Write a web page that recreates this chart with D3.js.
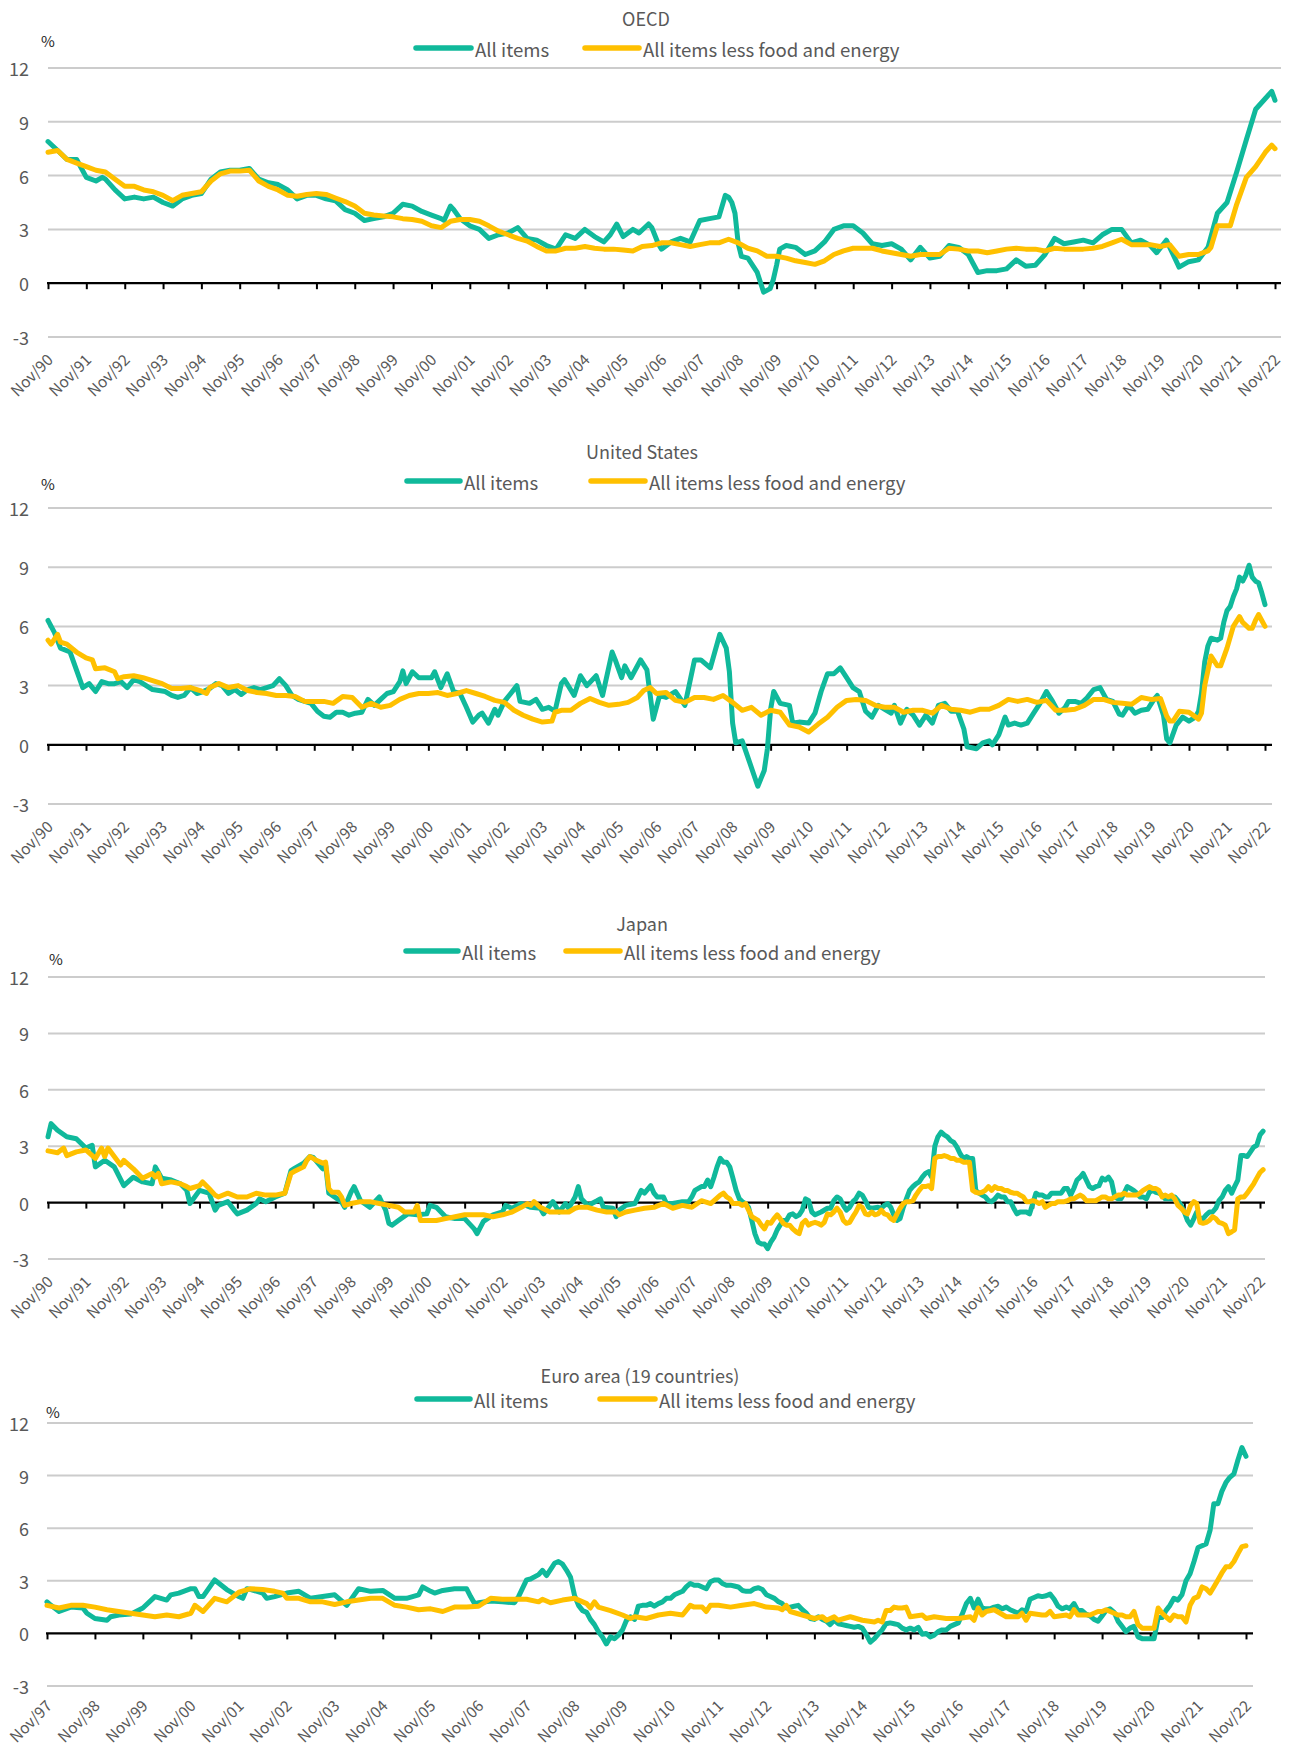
<!DOCTYPE html>
<html>
<head>
<meta charset="utf-8">
<script src="https://cdn.jsdelivr.net/npm/d3@7"></script>
<style>
  body { margin: 0; background: #fff; }
  text { font-family: "Noto Sans CJK JP", "Noto Sans", sans-serif; fill: #595959; }
</style>
</head>
<body>
<svg id="chart" width="1289" height="1747"></svg>
<script>
// year-on-year CPI, %  ([month, value])
const oecdAll = [
  ["1990-11",7.9],["1991-02",7.4],["1991-05",6.9],["1991-08",6.9],["1991-11",5.9],["1992-02",5.7],["1992-04",5.9],["1992-05",5.8],
  ["1992-08",5.2],["1992-11",4.7],["1993-02",4.8],["1993-05",4.7],["1993-08",4.8],["1993-11",4.5],["1994-02",4.3],["1994-05",4.7],
  ["1994-08",4.9],["1994-11",5.0],["1995-02",5.8],["1995-05",6.2],["1995-08",6.3],["1995-11",6.3],["1996-02",6.4],["1996-05",5.8],
  ["1996-08",5.6],["1996-11",5.5],["1997-02",5.2],["1997-05",4.7],["1997-08",4.9],["1997-11",4.9],["1998-02",4.7],["1998-05",4.6],
  ["1998-08",4.1],["1998-11",3.9],["1999-02",3.5],["1999-05",3.6],["1999-08",3.7],["1999-11",3.9],["2000-02",4.4],["2000-05",4.3],
  ["2000-08",4.0],["2000-11",3.8],["2001-02",3.6],["2001-03",3.5],["2001-05",4.3],["2001-06",4.1],["2001-08",3.6],["2001-11",3.2],
  ["2002-02",3.0],["2002-05",2.5],["2002-08",2.7],["2002-11",2.8],["2003-02",3.1],["2003-05",2.5],["2003-08",2.4],["2003-11",2.1],
  ["2004-02",1.9],["2004-05",2.7],["2004-08",2.5],["2004-11",3.0],["2005-02",2.6],["2005-05",2.3],["2005-07",2.7],["2005-09",3.3],
  ["2005-11",2.6],["2006-02",3.0],["2006-04",2.8],["2006-07",3.3],["2006-08",3.1],["2006-10",2.2],["2006-11",1.9],["2007-02",2.3],
  ["2007-05",2.5],["2007-08",2.3],["2007-11",3.5],["2008-02",3.6],["2008-05",3.7],["2008-07",4.9],["2008-08",4.8],["2008-09",4.5],
  ["2008-10",3.9],["2008-11",2.2],["2008-12",1.5],["2009-02",1.4],["2009-05",0.6],["2009-07",-0.5],["2009-09",-0.3],["2009-10",0.2],
  ["2009-11",1.0],["2009-12",1.9],["2010-02",2.1],["2010-05",2.0],["2010-08",1.6],["2010-11",1.8],["2011-02",2.3],["2011-05",3.0],
  ["2011-08",3.2],["2011-11",3.2],["2012-02",2.8],["2012-05",2.2],["2012-08",2.1],["2012-11",2.2],["2013-02",1.9],["2013-05",1.3],
  ["2013-08",2.0],["2013-11",1.4],["2014-02",1.5],["2014-05",2.1],["2014-08",2.0],["2014-11",1.6],["2015-02",0.6],["2015-05",0.7],
  ["2015-08",0.7],["2015-11",0.8],["2016-02",1.3],["2016-05",0.95],["2016-08",1.0],["2016-11",1.6],["2017-02",2.5],["2017-05",2.2],
  ["2017-08",2.3],["2017-11",2.4],["2018-02",2.25],["2018-05",2.7],["2018-08",3.0],["2018-11",3.0],["2019-02",2.25],["2019-05",2.4],
  ["2019-08",2.1],["2019-10",1.7],["2020-01",2.4],["2020-05",0.9],["2020-08",1.2],["2020-11",1.3],["2021-02",2.0],["2021-05",3.9],
  ["2021-08",4.5],["2021-11",6.2],["2022-02",8.0],["2022-05",9.7],["2022-08",10.3],["2022-10",10.7],["2022-11",10.2]
];
const oecdCore = [
  ["1990-11",7.3],["1991-02",7.4],["1991-05",6.9],["1991-08",6.7],["1991-11",6.5],["1992-02",6.3],["1992-05",6.2],["1992-08",5.8],
  ["1992-11",5.4],["1993-02",5.4],["1993-05",5.2],["1993-08",5.1],["1993-11",4.9],["1994-02",4.6],["1994-05",4.9],["1994-08",5.0],
  ["1994-11",5.1],["1995-02",5.7],["1995-05",6.1],["1995-08",6.25],["1995-11",6.25],["1996-02",6.3],["1996-05",5.7],["1996-08",5.4],
  ["1996-11",5.2],["1997-02",4.9],["1997-05",4.85],["1997-08",4.95],["1997-11",5.0],["1998-02",4.95],["1998-05",4.75],["1998-08",4.55],
  ["1998-11",4.3],["1999-02",3.9],["1999-05",3.8],["1999-08",3.75],["1999-11",3.7],["2000-02",3.6],["2000-05",3.55],["2000-08",3.45],
  ["2000-11",3.2],["2001-02",3.1],["2001-05",3.45],["2001-08",3.55],["2001-11",3.55],["2002-02",3.45],["2002-05",3.2],["2002-08",2.9],
  ["2002-11",2.7],["2003-02",2.5],["2003-05",2.35],["2003-08",2.05],["2003-11",1.8],["2004-02",1.8],["2004-05",1.95],["2004-08",1.95],
  ["2004-11",2.05],["2005-02",1.95],["2005-05",1.9],["2005-08",1.9],["2005-11",1.85],["2006-02",1.8],["2006-05",2.05],["2006-08",2.1],
  ["2006-11",2.25],["2007-02",2.25],["2007-05",2.15],["2007-08",2.05],["2007-11",2.15],["2008-02",2.25],["2008-05",2.25],["2008-08",2.45],
  ["2008-11",2.25],["2009-02",1.95],["2009-05",1.8],["2009-08",1.5],["2009-11",1.5],["2010-02",1.4],["2010-05",1.25],["2010-08",1.15],
  ["2010-11",1.05],["2011-02",1.25],["2011-05",1.6],["2011-08",1.8],["2011-11",1.95],["2012-02",1.95],["2012-05",1.95],["2012-08",1.8],
  ["2012-11",1.7],["2013-02",1.6],["2013-05",1.5],["2013-08",1.6],["2013-11",1.6],["2014-02",1.6],["2014-05",1.95],["2014-08",1.9],
  ["2014-11",1.8],["2015-02",1.8],["2015-05",1.7],["2015-08",1.8],["2015-11",1.9],["2016-02",1.95],["2016-05",1.9],["2016-08",1.9],
  ["2016-11",1.8],["2017-02",1.95],["2017-05",1.9],["2017-08",1.9],["2017-11",1.9],["2018-02",1.95],["2018-05",2.05],["2018-08",2.25],
  ["2018-11",2.45],["2019-02",2.15],["2019-05",2.15],["2019-08",2.15],["2019-11",2.05],["2020-02",2.15],["2020-05",1.5],["2020-08",1.6],
  ["2020-11",1.6],["2021-02",1.8],["2021-03",2.0],["2021-05",3.2],["2021-09",3.2],["2021-11",4.4],["2022-02",5.9],["2022-05",6.5],
  ["2022-08",7.3],["2022-10",7.7],["2022-11",7.5]
];
const usAll = [
  ["1990-11",6.3],["1991-01",5.7],["1991-03",4.9],["1991-06",4.7],["1991-08",3.8],["1991-10",2.9],["1991-12",3.1],["1992-02",2.7],
  ["1992-04",3.2],["1992-06",3.1],["1992-08",3.1],["1992-10",3.2],["1992-12",2.9],["1993-02",3.3],["1993-04",3.2],["1993-06",3.0],
  ["1993-08",2.8],["1993-10",2.75],["1993-12",2.7],["1994-02",2.5],["1994-04",2.4],["1994-06",2.5],["1994-08",2.9],["1994-10",2.6],
  ["1994-12",2.7],["1995-02",2.85],["1995-04",3.1],["1995-06",3.0],["1995-08",2.6],["1995-10",2.8],["1995-12",2.55],["1996-02",2.8],
  ["1996-04",2.9],["1996-06",2.8],["1996-08",2.9],["1996-10",3.0],["1996-12",3.35],["1997-02",3.0],["1997-04",2.5],["1997-06",2.3],
  ["1997-08",2.2],["1997-10",2.1],["1997-12",1.7],["1998-02",1.45],["1998-04",1.4],["1998-06",1.65],["1998-08",1.65],["1998-10",1.5],
  ["1998-12",1.6],["1999-02",1.65],["1999-04",2.3],["1999-06",2.0],["1999-08",2.3],["1999-10",2.6],["1999-12",2.7],["2000-02",3.2],
  ["2000-03",3.75],["2000-04",3.1],["2000-06",3.7],["2000-08",3.4],["2000-10",3.4],["2000-12",3.4],["2001-01",3.7],["2001-03",2.9],
  ["2001-05",3.6],["2001-07",2.7],["2001-09",2.6],["2001-11",1.9],["2002-01",1.15],["2002-03",1.5],["2002-04",1.6],["2002-06",1.1],
  ["2002-08",1.8],["2002-09",1.5],["2002-11",2.2],["2003-01",2.6],["2003-03",3.0],["2003-04",2.2],["2003-07",2.1],["2003-09",2.3],
  ["2003-11",1.8],["2004-01",1.9],["2004-03",1.7],["2004-05",3.1],["2004-06",3.3],["2004-09",2.5],["2004-11",3.5],["2005-01",3.0],
  ["2005-04",3.5],["2005-06",2.5],["2005-09",4.7],["2005-10",4.3],["2005-12",3.4],["2006-01",4.0],["2006-03",3.4],["2006-06",4.3],
  ["2006-08",3.8],["2006-10",1.3],["2006-12",2.5],["2007-02",2.4],["2007-05",2.7],["2007-08",2.0],["2007-11",4.3],["2008-01",4.3],
  ["2008-04",3.9],["2008-07",5.6],["2008-09",4.9],["2008-10",3.7],["2008-11",1.1],["2008-12",0.1],["2009-02",0.2],["2009-04",-0.7],
  ["2009-07",-2.1],["2009-09",-1.3],["2009-10",-0.2],["2009-11",1.8],["2009-12",2.7],["2010-02",2.1],["2010-05",2.0],["2010-06",1.1],
  ["2010-08",1.15],["2010-11",1.1],["2011-01",1.6],["2011-03",2.7],["2011-05",3.6],["2011-07",3.6],["2011-09",3.9],["2011-11",3.4],
  ["2012-01",2.9],["2012-03",2.7],["2012-05",1.7],["2012-07",1.4],["2012-09",2.0],["2012-11",1.8],["2013-01",1.6],["2013-02",2.0],
  ["2013-04",1.1],["2013-06",1.8],["2013-08",1.5],["2013-10",1.0],["2013-12",1.5],["2014-02",1.1],["2014-04",2.0],["2014-06",2.1],
  ["2014-08",1.7],["2014-10",1.7],["2014-12",0.8],["2015-01",-0.1],["2015-04",-0.2],["2015-06",0.1],["2015-08",0.2],["2015-09",0.0],
  ["2015-11",0.5],["2016-01",1.4],["2016-02",1.0],["2016-04",1.1],["2016-06",1.0],["2016-08",1.1],["2016-10",1.6],["2016-12",2.1],
  ["2017-02",2.7],["2017-04",2.2],["2017-06",1.6],["2017-08",1.9],["2017-09",2.2],["2017-11",2.2],["2018-01",2.1],["2018-03",2.4],
  ["2018-05",2.8],["2018-07",2.9],["2018-09",2.3],["2018-11",2.2],["2019-01",1.55],["2019-02",1.5],["2019-04",2.0],["2019-06",1.6],
  ["2019-08",1.75],["2019-10",1.8],["2019-12",2.3],["2020-01",2.5],["2020-03",1.5],["2020-04",0.3],["2020-05",0.1],["2020-07",1.0],
  ["2020-09",1.4],["2020-11",1.2],["2021-01",1.4],["2021-02",1.7],["2021-03",2.6],["2021-04",4.2],["2021-05",5.0],["2021-06",5.4],
  ["2021-08",5.3],["2021-09",5.4],["2021-10",6.2],["2021-11",6.8],["2021-12",7.0],["2022-01",7.5],["2022-02",7.9],["2022-03",8.5],
  ["2022-04",8.3],["2022-05",8.6],["2022-06",9.1],["2022-07",8.5],["2022-08",8.3],["2022-09",8.2],["2022-10",7.7],["2022-11",7.1]
];
const usCore = [
  ["1990-11",5.3],["1990-12",5.1],["1991-02",5.6],["1991-03",5.2],["1991-05",5.1],["1991-08",4.7],["1991-11",4.4],["1992-01",4.3],
  ["1992-02",3.85],["1992-05",3.9],["1992-08",3.7],["1992-09",3.35],["1992-11",3.45],["1993-02",3.5],["1993-05",3.4],["1993-08",3.25],
  ["1993-11",3.1],["1994-02",2.85],["1994-05",2.85],["1994-08",2.9],["1994-11",2.75],["1995-01",2.6],["1995-02",2.9],["1995-05",3.1],
  ["1995-08",2.9],["1995-11",3.0],["1996-02",2.75],["1996-05",2.65],["1996-08",2.6],["1996-11",2.5],["1997-02",2.5],["1997-05",2.45],
  ["1997-08",2.2],["1997-11",2.2],["1998-02",2.2],["1998-05",2.1],["1998-08",2.45],["1998-11",2.4],["1999-02",1.9],["1999-05",2.1],
  ["1999-08",1.9],["1999-11",2.0],["2000-02",2.3],["2000-05",2.5],["2000-08",2.6],["2000-11",2.6],["2001-02",2.65],["2001-05",2.5],
  ["2001-08",2.6],["2001-11",2.75],["2002-02",2.6],["2002-05",2.45],["2002-08",2.25],["2002-11",2.15],["2003-02",1.75],["2003-05",1.5],
  ["2003-08",1.3],["2003-11",1.15],["2004-02",1.2],["2004-03",1.65],["2004-05",1.75],["2004-08",1.75],["2004-11",2.1],["2005-02",2.35],
  ["2005-05",2.15],["2005-08",2.0],["2005-11",2.05],["2006-02",2.15],["2006-05",2.4],["2006-07",2.75],["2006-09",2.9],["2006-11",2.6],
  ["2007-02",2.65],["2007-05",2.25],["2007-08",2.15],["2007-11",2.4],["2008-02",2.4],["2008-05",2.3],["2008-08",2.5],["2008-11",2.15],
  ["2009-02",1.75],["2009-05",1.9],["2009-08",1.5],["2009-11",1.75],["2010-02",1.65],["2010-05",1.0],["2010-08",0.9],["2010-11",0.65],
  ["2011-02",1.05],["2011-05",1.4],["2011-08",1.9],["2011-11",2.25],["2012-02",2.3],["2012-05",2.25],["2012-08",2.0],["2012-11",1.9],
  ["2013-02",1.9],["2013-05",1.65],["2013-08",1.75],["2013-11",1.75],["2014-02",1.6],["2014-05",2.0],["2014-08",1.8],["2014-11",1.75],
  ["2015-02",1.65],["2015-05",1.8],["2015-08",1.8],["2015-11",2.0],["2016-02",2.3],["2016-05",2.2],["2016-08",2.3],["2016-11",2.15],
  ["2017-02",2.25],["2017-05",1.75],["2017-08",1.75],["2017-11",1.8],["2018-02",2.0],["2018-05",2.3],["2018-08",2.3],["2018-11",2.15],
  ["2019-02",2.1],["2019-05",2.05],["2019-08",2.4],["2019-11",2.3],["2020-02",2.35],["2020-04",1.45],["2020-05",1.2],["2020-06",1.2],
  ["2020-08",1.7],["2020-11",1.65],["2021-02",1.3],["2021-03",1.6],["2021-04",3.0],["2021-06",4.5],["2021-08",4.0],["2021-09",4.0],
  ["2021-11",4.9],["2022-01",6.0],["2022-03",6.5],["2022-04",6.2],["2022-06",5.9],["2022-07",5.9],["2022-08",6.3],["2022-09",6.6],
  ["2022-10",6.3],["2022-11",6.0]
];
const jpAll = [
  ["1990-11",3.5],["1990-12",4.2],["1991-02",3.85],["1991-05",3.5],["1991-08",3.4],["1991-11",2.9],["1992-01",3.05],["1992-02",1.9],
  ["1992-05",2.25],["1992-08",1.9],["1992-11",0.9],["1993-02",1.35],["1993-05",1.1],["1993-08",1.0],["1993-09",1.9],["1993-11",1.3],
  ["1994-02",1.2],["1994-05",1.0],["1994-07",0.65],["1994-08",-0.05],["1994-11",0.65],["1995-02",0.5],["1995-04",-0.4],["1995-05",-0.15],
  ["1995-08",0.05],["1995-10",-0.4],["1995-11",-0.6],["1996-02",-0.4],["1996-05",-0.05],["1996-06",0.2],["1996-08",0.05],["1996-11",0.3],
  ["1997-02",0.5],["1997-04",1.7],["1997-05",1.8],["1997-08",2.1],["1997-10",2.45],["1997-11",2.4],["1998-02",1.8],["1998-03",2.0],
  ["1998-04",0.5],["1998-05",0.4],["1998-08",0.05],["1998-09",-0.25],["1998-11",0.55],["1998-12",0.85],["1999-02",0.1],["1999-05",-0.25],
  ["1999-08",0.3],["1999-10",-0.4],["1999-11",-1.1],["1999-12",-1.2],["2000-02",-0.95],["2000-05",-0.6],["2000-08",-0.65],["2000-11",-0.6],
  ["2000-12",-0.15],["2001-02",-0.25],["2001-05",-0.75],["2001-08",-0.85],["2001-11",-0.85],["2002-02",-1.4],["2002-03",-1.65],["2002-05",-1.0],
  ["2002-08",-0.65],["2002-11",-0.5],["2002-12",-0.15],["2003-02",-0.3],["2003-05",-0.05],["2003-08",-0.25],["2003-11",-0.3],["2003-12",-0.6],
  ["2004-02",-0.15],["2004-03",0.05],["2004-05",-0.5],["2004-07",-0.05],["2004-08",-0.3],["2004-10",0.3],["2004-11",0.85],["2004-12",0.2],
  ["2005-02",-0.15],["2005-05",0.1],["2005-06",0.2],["2005-07",-0.25],["2005-10",-0.3],["2005-11",-0.75],["2005-12",-0.4],["2006-02",-0.15],
  ["2006-05",-0.05],["2006-07",0.65],["2006-08",0.5],["2006-10",0.9],["2006-11",0.5],["2006-12",0.3],["2007-02",0.3],["2007-03",-0.05],
  ["2007-05",-0.05],["2007-08",0.05],["2007-10",0.05],["2007-11",0.3],["2007-12",0.65],["2008-02",0.85],["2008-03",0.85],["2008-04",1.2],
  ["2008-05",0.85],["2008-06",1.35],["2008-07",1.9],["2008-08",2.35],["2008-09",2.15],["2008-10",2.15],["2008-11",1.9],["2008-12",1.3],
  ["2009-01",0.65],["2009-02",0.2],["2009-03",0.05],["2009-04",-0.05],["2009-05",-0.25],["2009-06",-0.95],["2009-07",-1.65],["2009-08",-2.1],
  ["2009-09",-2.2],["2009-10",-2.2],["2009-11",-2.45],["2009-12",-2.1],["2010-01",-1.85],["2010-02",-1.45],["2010-03",-1.2],["2010-04",-0.95],
  ["2010-05",-0.95],["2010-06",-0.65],["2010-07",-0.6],["2010-08",-0.75],["2010-09",-0.65],["2010-10",-0.4],["2010-11",0.2],["2010-12",0.1],
  ["2011-01",-0.5],["2011-02",-0.65],["2011-04",-0.5],["2011-06",-0.3],["2011-07",-0.3],["2011-08",0.1],["2011-09",0.3],["2011-10",0.2],
  ["2011-11",-0.15],["2011-12",-0.4],["2012-01",-0.25],["2012-02",0.05],["2012-03",0.2],["2012-04",0.5],["2012-05",0.4],["2012-06",0.1],
  ["2012-07",-0.25],["2012-08",-0.3],["2012-10",-0.25],["2012-11",-0.3],["2012-12",-0.15],["2013-01",-0.05],["2013-02",-0.25],["2013-03",-0.65],
  ["2013-04",-0.95],["2013-05",-0.85],["2013-06",-0.25],["2013-07",0.2],["2013-08",0.65],["2013-09",0.85],["2013-10",1.0],["2013-11",1.1],
  ["2013-12",1.35],["2014-01",1.55],["2014-02",1.65],["2014-03",1.35],["2014-04",3.0],["2014-05",3.5],["2014-06",3.75],["2014-07",3.6],
  ["2014-08",3.5],["2014-09",3.3],["2014-10",3.2],["2014-11",2.95],["2014-12",2.6],["2015-01",2.35],["2015-02",2.45],["2015-03",2.35],
  ["2015-04",2.35],["2015-05",0.65],["2015-06",0.5],["2015-07",0.4],["2015-08",0.3],["2015-09",0.1],["2015-10",0.05],["2015-11",0.2],
  ["2015-12",0.4],["2016-01",0.3],["2016-02",0.3],["2016-03",0.05],["2016-04",0.05],["2016-05",-0.3],["2016-06",-0.6],["2016-07",-0.5],
  ["2016-08",-0.5],["2016-09",-0.5],["2016-10",-0.6],["2016-11",-0.05],["2016-12",0.5],["2017-01",0.4],["2017-02",0.4],["2017-03",0.3],
  ["2017-04",0.3],["2017-05",0.5],["2017-06",0.5],["2017-07",0.5],["2017-08",0.5],["2017-09",0.75],["2017-10",0.75],["2017-11",0.4],
  ["2017-12",0.75],["2018-01",1.2],["2018-02",1.35],["2018-03",1.55],["2018-04",1.2],["2018-05",0.85],["2018-06",0.75],["2018-07",0.85],
  ["2018-08",0.9],["2018-09",1.3],["2018-10",1.2],["2018-11",1.35],["2018-12",1.1],["2019-01",0.3],["2019-02",0.2],["2019-03",0.2],
  ["2019-04",0.5],["2019-05",0.85],["2019-06",0.75],["2019-07",0.65],["2019-08",0.5],["2019-09",0.3],["2019-10",0.3],["2019-11",0.2],
  ["2019-12",0.55],["2020-01",0.65],["2020-02",0.55],["2020-03",0.5],["2020-04",0.4],["2020-05",0.2],["2020-06",0.2],["2020-07",0.2],
  ["2020-08",0.3],["2020-09",0.1],["2020-10",-0.15],["2020-11",-0.5],["2020-12",-0.95],["2021-01",-1.2],["2021-02",-0.85],["2021-03",-0.5],
  ["2021-04",-0.85],["2021-05",-0.85],["2021-06",-0.65],["2021-07",-0.5],["2021-08",-0.5],["2021-09",-0.3],["2021-10",0.1],["2021-11",0.3],
  ["2021-12",0.65],["2022-01",0.85],["2022-02",0.5],["2022-03",0.85],["2022-04",1.2],["2022-05",2.5],["2022-06",2.5],["2022-07",2.45],
  ["2022-08",2.7],["2022-09",2.95],["2022-10",3.05],["2022-11",3.6],["2022-12",3.8]
];
const jpCore = [
  ["1990-11",2.75],["1991-02",2.65],["1991-04",2.9],["1991-05",2.5],["1991-08",2.7],["1991-11",2.8],["1992-02",2.35],["1992-04",2.9],
  ["1992-05",2.45],["1992-06",2.9],["1992-08",2.45],["1992-10",2.0],["1992-11",2.25],["1993-02",1.8],["1993-05",1.3],["1993-08",1.55],
  ["1993-09",1.35],["1993-10",1.55],["1993-11",1.0],["1994-02",1.1],["1994-05",1.0],["1994-07",0.85],["1994-08",0.75],["1994-11",0.9],
  ["1994-12",1.1],["1995-02",0.75],["1995-04",0.4],["1995-05",0.3],["1995-08",0.5],["1995-11",0.3],["1996-02",0.3],["1996-05",0.5],
  ["1996-08",0.4],["1996-11",0.4],["1997-02",0.5],["1997-04",1.55],["1997-05",1.65],["1997-08",1.9],["1997-09",2.25],["1997-10",2.45],
  ["1997-11",2.35],["1997-12",2.25],["1998-02",2.1],["1998-03",2.15],["1998-04",0.75],["1998-05",0.55],["1998-07",0.55],["1998-08",0.3],
  ["1998-09",-0.15],["1998-11",-0.05],["1999-02",0.05],["1999-05",0.05],["1999-08",-0.05],["1999-11",-0.15],["2000-02",-0.25],["2000-04",-0.5],
  ["2000-07",-0.5],["2000-08",-0.15],["2000-09",-0.95],["2000-11",-0.95],["2001-02",-0.95],["2001-05",-0.85],["2001-08",-0.75],["2001-11",-0.65],
  ["2002-02",-0.65],["2002-05",-0.65],["2002-08",-0.75],["2002-11",-0.65],["2003-02",-0.5],["2003-05",-0.25],["2003-07",-0.05],["2003-08",-0.15],
  ["2003-09",0.05],["2003-11",-0.25],["2004-02",-0.5],["2004-05",-0.5],["2004-08",-0.5],["2004-10",-0.3],["2004-11",-0.25],["2005-02",-0.25],
  ["2005-05",-0.4],["2005-08",-0.5],["2005-11",-0.5],["2005-12",-0.65],["2006-02",-0.5],["2006-05",-0.4],["2006-08",-0.3],["2006-11",-0.25],
  ["2007-02",-0.05],["2007-05",-0.3],["2007-08",-0.15],["2007-11",-0.25],["2008-02",0.1],["2008-05",-0.05],["2008-08",0.4],["2008-09",0.5],
  ["2008-10",0.3],["2008-11",0.2],["2008-12",-0.05],["2009-02",-0.05],["2009-03",-0.15],["2009-04",-0.05],["2009-05",-0.4],["2009-06",-0.75],
  ["2009-08",-0.95],["2009-09",-1.2],["2009-10",-1.4],["2009-11",-1.05],["2009-12",-1.1],["2010-01",-0.85],["2010-02",-0.65],["2010-03",-0.85],
  ["2010-04",-1.1],["2010-05",-1.2],["2010-06",-1.2],["2010-07",-1.4],["2010-08",-1.55],["2010-09",-1.65],["2010-10",-1.1],["2010-11",-0.95],
  ["2010-12",-1.2],["2011-01",-1.1],["2011-02",-1.05],["2011-03",-1.1],["2011-04",-1.2],["2011-05",-1.05],["2011-06",-0.6],["2011-07",-0.65],
  ["2011-08",-0.5],["2011-09",-0.3],["2011-10",-0.5],["2011-11",-0.95],["2011-12",-1.1],["2012-01",-1.05],["2012-02",-0.75],["2012-03",-0.5],
  ["2012-04",-0.15],["2012-05",-0.25],["2012-06",-0.6],["2012-07",-0.65],["2012-08",-0.5],["2012-09",-0.65],["2012-10",-0.6],["2012-11",-0.4],
  ["2012-12",-0.6],["2013-01",-0.65],["2013-02",-0.85],["2013-03",-0.95],["2013-04",-0.6],["2013-05",-0.3],["2013-06",-0.05],["2013-07",0.05],
  ["2013-08",0.05],["2013-09",0.1],["2013-10",0.4],["2013-11",0.65],["2013-12",0.85],["2014-01",0.85],["2014-02",0.9],["2014-03",0.75],
  ["2014-04",2.35],["2014-05",2.45],["2014-06",2.45],["2014-07",2.5],["2014-08",2.45],["2014-09",2.35],["2014-10",2.35],["2014-11",2.25],
  ["2014-12",2.25],["2015-01",2.15],["2015-02",2.15],["2015-03",2.15],["2015-04",0.65],["2015-05",0.55],["2015-06",0.5],["2015-07",0.55],
  ["2015-08",0.65],["2015-09",0.85],["2015-10",0.65],["2015-11",0.85],["2015-12",0.75],["2016-01",0.75],["2016-02",0.65],["2016-03",0.65],
  ["2016-04",0.55],["2016-05",0.5],["2016-06",0.5],["2016-07",0.4],["2016-08",0.3],["2016-09",0.05],["2016-10",0.05],["2016-11",0.1],
  ["2016-12",0.05],["2017-01",-0.05],["2017-02",0.05],["2017-03",-0.25],["2017-04",-0.15],["2017-05",-0.05],["2017-06",-0.05],["2017-07",0.05],
  ["2017-08",0.05],["2017-09",0.05],["2017-10",0.1],["2017-11",0.2],["2017-12",0.2],["2018-01",0.3],["2018-02",0.4],["2018-03",0.3],
  ["2018-04",0.1],["2018-05",0.1],["2018-06",0.1],["2018-07",0.1],["2018-08",0.2],["2018-09",0.3],["2018-10",0.3],["2018-11",0.2],
  ["2018-12",0.2],["2019-01",0.3],["2019-02",0.4],["2019-03",0.4],["2019-04",0.5],["2019-05",0.4],["2019-06",0.4],["2019-07",0.4],
  ["2019-08",0.4],["2019-09",0.5],["2019-10",0.65],["2019-11",0.75],["2019-12",0.85],["2020-01",0.75],["2020-02",0.75],["2020-03",0.65],
  ["2020-04",0.3],["2020-05",0.4],["2020-06",0.3],["2020-07",0.4],["2020-08",0.2],["2020-09",-0.15],["2020-10",-0.3],["2020-11",-0.5],
  ["2020-12",-0.6],["2021-01",-0.15],["2021-02",0.05],["2021-03",-0.05],["2021-04",-1.05],["2021-05",-1.1],["2021-06",-1.05],["2021-07",-0.95],
  ["2021-08",-0.75],["2021-09",-0.85],["2021-10",-1.05],["2021-11",-1.1],["2021-12",-1.2],["2022-01",-1.65],["2022-02",-1.55],["2022-03",-1.45],
  ["2022-04",0.2],["2022-05",0.3],["2022-06",0.3],["2022-07",0.5],["2022-08",0.75],["2022-09",1.0],["2022-10",1.3],["2022-11",1.6],
  ["2022-12",1.75]
];
const euAll = [
  ["1997-11",1.8],["1997-12",1.6],["1998-02",1.25],["1998-05",1.5],["1998-08",1.45],["1998-09",1.15],["1998-11",0.85],["1999-02",0.75],
  ["1999-03",0.95],["1999-05",1.05],["1999-08",1.1],["1999-11",1.45],["2000-02",2.1],["2000-05",1.9],["2000-06",2.2],["2000-08",2.3],
  ["2000-11",2.55],["2000-12",2.55],["2001-01",2.1],["2001-02",2.1],["2001-05",3.05],["2001-08",2.5],["2001-11",2.1],["2001-12",2.0],
  ["2002-01",2.55],["2002-02",2.5],["2002-05",2.3],["2002-06",2.0],["2002-08",2.1],["2002-11",2.3],["2003-02",2.4],["2003-05",2.0],
  ["2003-08",2.1],["2003-11",2.2],["2004-02",1.6],["2004-05",2.55],["2004-08",2.4],["2004-11",2.45],["2005-02",2.0],["2005-05",2.0],
  ["2005-08",2.2],["2005-09",2.65],["2005-11",2.4],["2005-12",2.3],["2006-02",2.45],["2006-05",2.55],["2006-08",2.55],["2006-09",2.1],
  ["2006-10",1.7],["2006-11",1.75],["2007-02",1.85],["2007-05",1.8],["2007-08",1.75],["2007-09",2.1],["2007-11",3.05],["2007-12",3.1],
  ["2008-02",3.35],["2008-03",3.6],["2008-04",3.3],["2008-06",4.0],["2008-07",4.1],["2008-08",3.95],["2008-09",3.6],["2008-10",3.2],
  ["2008-11",2.15],["2008-12",1.6],["2009-01",1.3],["2009-02",1.2],["2009-03",0.8],["2009-04",0.5],["2009-05",0.1],["2009-06",-0.2],
  ["2009-07",-0.6],["2009-08",-0.2],["2009-09",-0.3],["2009-10",-0.1],["2009-11",0.2],["2009-12",0.75],["2010-01",0.95],["2010-02",0.8],
  ["2010-03",1.55],["2010-04",1.6],["2010-05",1.6],["2010-06",1.7],["2010-07",1.55],["2010-08",1.7],["2010-09",1.8],["2010-10",2.0],
  ["2010-11",2.0],["2010-12",2.2],["2011-01",2.3],["2011-02",2.4],["2011-03",2.65],["2011-04",2.85],["2011-05",2.75],["2011-06",2.75],
  ["2011-07",2.65],["2011-08",2.55],["2011-09",2.95],["2011-10",3.05],["2011-11",3.05],["2011-12",2.85],["2012-01",2.75],["2012-02",2.75],
  ["2012-03",2.7],["2012-04",2.65],["2012-05",2.45],["2012-06",2.4],["2012-07",2.4],["2012-08",2.55],["2012-09",2.6],["2012-10",2.5],
  ["2012-11",2.2],["2012-12",2.1],["2013-01",2.0],["2013-02",1.8],["2013-03",1.7],["2013-04",1.45],["2013-05",1.5],["2013-06",1.55],
  ["2013-07",1.6],["2013-08",1.35],["2013-09",1.15],["2013-10",0.85],["2013-11",0.8],["2013-12",0.95],["2014-01",0.8],["2014-02",0.7],
  ["2014-03",0.5],["2014-04",0.75],["2014-05",0.55],["2014-06",0.5],["2014-07",0.45],["2014-08",0.4],["2014-09",0.35],["2014-10",0.4],
  ["2014-11",0.3],["2014-12",-0.05],["2015-01",-0.5],["2015-02",-0.3],["2015-03",-0.05],["2015-04",0.2],["2015-05",0.55],["2015-06",0.6],
  ["2015-07",0.55],["2015-08",0.5],["2015-09",0.3],["2015-10",0.2],["2015-11",0.3],["2015-12",0.2],["2016-01",0.35],["2016-02",-0.05],
  ["2016-03",0.0],["2016-04",-0.2],["2016-05",-0.1],["2016-06",0.1],["2016-07",0.2],["2016-08",0.2],["2016-09",0.4],["2016-10",0.5],
  ["2016-11",0.6],["2016-12",1.1],["2017-01",1.7],["2017-02",2.0],["2017-03",1.45],["2017-04",1.95],["2017-05",1.45],["2017-06",1.4],
  ["2017-07",1.4],["2017-08",1.5],["2017-09",1.55],["2017-10",1.4],["2017-11",1.5],["2017-12",1.35],["2018-01",1.25],["2018-02",1.15],
  ["2018-03",1.35],["2018-04",1.25],["2018-05",1.95],["2018-06",2.05],["2018-07",2.15],["2018-08",2.1],["2018-09",2.15],["2018-10",2.25],
  ["2018-11",1.95],["2018-12",1.55],["2019-01",1.4],["2019-02",1.5],["2019-03",1.4],["2019-04",1.7],["2019-05",1.3],["2019-06",1.3],
  ["2019-07",1.1],["2019-08",1.0],["2019-09",0.8],["2019-10",0.7],["2019-11",1.0],["2019-12",1.3],["2020-01",1.4],["2020-02",1.2],
  ["2020-03",0.7],["2020-04",0.4],["2020-05",0.1],["2020-06",0.3],["2020-07",0.4],["2020-08",-0.2],["2020-09",-0.3],["2020-10",-0.3],
  ["2020-11",-0.3],["2020-12",-0.3],["2021-01",0.9],["2021-02",0.9],["2021-03",1.3],["2021-04",1.6],["2021-05",2.0],["2021-06",1.9],
  ["2021-07",2.2],["2021-08",3.0],["2021-09",3.4],["2021-10",4.1],["2021-11",4.9],["2021-12",5.0],["2022-01",5.1],["2022-02",5.9],
  ["2022-03",7.4],["2022-04",7.4],["2022-05",8.1],["2022-06",8.6],["2022-07",8.9],["2022-08",9.1],["2022-09",9.9],["2022-10",10.6],
  ["2022-11",10.1]
];
const euCore = [
  ["1997-11",1.6],["1998-02",1.45],["1998-05",1.6],["1998-08",1.6],["1998-11",1.5],["1999-02",1.35],["1999-05",1.25],["1999-08",1.15],
  ["1999-11",1.05],["2000-02",0.95],["2000-05",1.05],["2000-08",0.95],["2000-11",1.15],["2000-12",1.6],["2001-02",1.25],["2001-05",2.0],
  ["2001-08",1.8],["2001-11",2.35],["2002-02",2.55],["2002-05",2.5],["2002-08",2.4],["2002-10",2.3],["2002-11",2.0],["2003-02",2.0],
  ["2003-05",1.8],["2003-08",1.8],["2003-11",1.65],["2004-02",1.8],["2004-05",1.9],["2004-08",2.0],["2004-11",2.0],["2005-02",1.6],
  ["2005-05",1.5],["2005-08",1.35],["2005-11",1.4],["2006-02",1.25],["2006-05",1.5],["2006-08",1.5],["2006-11",1.55],["2007-02",2.0],
  ["2007-05",1.95],["2007-08",1.95],["2007-11",1.95],["2008-02",1.8],["2008-03",1.95],["2008-05",1.75],["2008-08",1.9],["2008-11",2.0],
  ["2009-02",1.7],["2009-03",1.45],["2009-04",1.8],["2009-05",1.5],["2009-08",1.3],["2009-11",1.05],["2010-01",0.85],["2010-02",0.95],
  ["2010-05",0.85],["2010-08",1.05],["2010-11",1.15],["2011-02",1.05],["2011-04",1.6],["2011-05",1.5],["2011-07",1.5],["2011-08",1.25],
  ["2011-09",1.6],["2011-11",1.6],["2012-02",1.5],["2012-05",1.6],["2012-08",1.7],["2012-11",1.5],["2013-02",1.45],["2013-03",1.35],
  ["2013-04",1.6],["2013-05",1.25],["2013-08",1.05],["2013-11",0.85],["2014-01",0.95],["2014-02",0.75],["2014-04",0.95],["2014-05",0.75],
  ["2014-08",0.95],["2014-11",0.75],["2015-02",0.65],["2015-03",0.75],["2015-04",0.65],["2015-05",1.3],["2015-06",1.3],["2015-07",1.5],
  ["2015-08",1.45],["2015-09",1.45],["2015-10",1.5],["2015-11",0.95],["2016-02",1.05],["2016-03",0.85],["2016-05",0.95],["2016-08",0.85],
  ["2016-11",0.85],["2017-02",0.95],["2017-03",0.75],["2017-04",1.45],["2017-05",1.05],["2017-06",1.25],["2017-08",1.35],["2017-11",0.95],
  ["2018-02",0.95],["2018-03",1.15],["2018-04",0.75],["2018-05",1.15],["2018-08",1.05],["2018-09",1.05],["2018-10",1.25],["2018-11",0.95],
  ["2019-02",1.05],["2019-03",0.95],["2019-04",1.35],["2019-05",1.05],["2019-08",1.05],["2019-10",1.25],["2019-11",1.25],["2019-12",1.35],
  ["2020-01",1.25],["2020-02",1.15],["2020-03",1.05],["2020-04",1.05],["2020-05",0.95],["2020-06",0.95],["2020-07",1.25],["2020-08",0.5],
  ["2020-09",0.3],["2020-10",0.3],["2020-11",0.3],["2020-12",0.3],["2021-01",1.45],["2021-02",1.15],["2021-03",0.95],["2021-04",0.75],
  ["2021-05",1.05],["2021-06",0.95],["2021-07",0.95],["2021-08",0.65],["2021-09",1.6],["2021-10",2.0],["2021-11",2.1],["2021-12",2.65],
  ["2022-01",2.55],["2022-02",2.3],["2022-03",2.65],["2022-04",3.05],["2022-05",3.45],["2022-06",3.8],["2022-07",3.8],["2022-08",4.1],
  ["2022-09",4.55],["2022-10",4.95],["2022-11",5.0]
];

const yTicks = [-3, 0, 3, 6, 9, 12];
const seriesNames = ["All items", "All items less food and energy"];
const seriesColors = ["#10B99B", "#FFC000"];

// panel layout (pixels)
const panels = [
  { title: "OECD", all: oecdAll, core: oecdCore, startYear: 1990,
    x0: 48, x1: 1275, gridEnd: 1281, yTop: 68, yBot: 337, labDy: 24,
    titleX: 646, titleY: 18, legY: 48, legGreen: [416, 471], legYellow: [585, 639], pct: [41, 47] },
  { title: "United States", all: usAll, core: usCore, startYear: 1990,
    x0: 48, x1: 1265, gridEnd: 1272, yTop: 508, yBot: 804, labDy: 24,
    titleX: 642, titleY: 451, legY: 481, legGreen: [407, 460], legYellow: [591, 645], pct: [41, 490] },
  { title: "Japan", all: jpAll, core: jpCore, startYear: 1990,
    x0: 48, x1: 1260, gridEnd: 1265, yTop: 977, yBot: 1259, labDy: 24,
    titleX: 642, titleY: 923, legY: 951, legGreen: [406, 458], legYellow: [566, 620], pct: [49, 965] },
  { title: "Euro area (19 countries)", all: euAll, core: euCore, startYear: 1997,
    x0: 47, x1: 1246, gridEnd: 1253, yTop: 1423, yBot: 1686, labDy: 21,
    titleX: 640, titleY: 1375, legY: 1399, legGreen: [417, 470], legYellow: [600, 655], pct: [46, 1418] }
];

const svg = d3.select("#chart");
const parseMonth = d3.timeParse("%Y-%m");
const fmtTick = d3.timeFormat("Nov/%y");

panels.forEach(p => {
  const g = svg.append("g");
  const novs = d3.range(p.startYear, 2023).map(yr => new Date(yr, 10, 1));
  const x = d3.scaleTime()
    .domain([novs[0], novs[novs.length - 1]])
    .range([p.x0, p.x1]);
  const y = d3.scaleLinear().domain([-3, 12]).range([p.yBot, p.yTop]);

  // gridlines
  g.selectAll(".grid").data(yTicks.filter(v => v !== 0)).join("line")
    .attr("x1", p.x0).attr("x2", p.gridEnd)
    .attr("y1", d => y(d)).attr("y2", d => y(d))
    .attr("stroke", "#CCCCCC").attr("stroke-width", 2);

  // y labels
  g.selectAll(".ylab").data(yTicks).join("text")
    .attr("x", 29).attr("y", d => y(d))
    .attr("text-anchor", "end").attr("dominant-baseline", "central")
    .style("font-size", "18px")
    .text(d => d);

  // zero axis with ticks
  const axis = g.append("g").attr("transform", `translate(0,${y(0)})`)
    .call(d3.axisBottom(x).tickValues(novs).tickSize(6).tickFormat(""));
  axis.select(".domain").remove();
  axis.selectAll(".tick line").attr("stroke", "#000").attr("stroke-width", 2);
  g.append("line")
    .attr("x1", p.x0 - 1).attr("x2", p.gridEnd)
    .attr("y1", y(0)).attr("y2", y(0))
    .attr("stroke", "#000").attr("stroke-width", 2.2);

  // rotated date labels under the plot
  g.selectAll(".xlab").data(novs).join("text")
    .attr("transform", d => `translate(${x(d) + 6},${p.yBot + p.labDy}) rotate(-45)`)
    .attr("text-anchor", "end")
    .style("font-size", "15.5px")
    .text(d => fmtTick(d));

  // series lines
  const line = d3.line()
    .x(d => x(parseMonth(d[0])))
    .y(d => y(d[1]));
  [p.all, p.core].forEach((s, i) => {
    g.append("path").datum(s)
      .attr("d", line)
      .attr("fill", "none")
      .attr("stroke", seriesColors[i])
      .attr("stroke-width", 5)
      .attr("stroke-linejoin", "round")
      .attr("stroke-linecap", "round");
  });

  // title
  g.append("text")
    .attr("x", p.titleX).attr("y", p.titleY)
    .attr("text-anchor", "middle").attr("dominant-baseline", "central")
    .style("font-size", "18px")
    .text(p.title);

  // legend
  [p.legGreen, p.legYellow].forEach((pos, i) => {
    g.append("line")
      .attr("x1", pos[0]).attr("x2", pos[1])
      .attr("y1", p.legY).attr("y2", p.legY)
      .attr("stroke", seriesColors[i]).attr("stroke-width", 5.5)
      .attr("stroke-linecap", "round");
    g.append("text")
      .attr("x", pos[1] + 4).attr("y", p.legY)
      .attr("dominant-baseline", "central")
      .style("font-size", "18.6px")
      .text(seriesNames[i]);
  });

  // unit label
  g.append("text")
    .attr("x", p.pct[0]).attr("y", p.pct[1])
    .style("font-size", "15px").style("fill", "#262626")
    .text("%");
});
</script>
</body>
</html>
